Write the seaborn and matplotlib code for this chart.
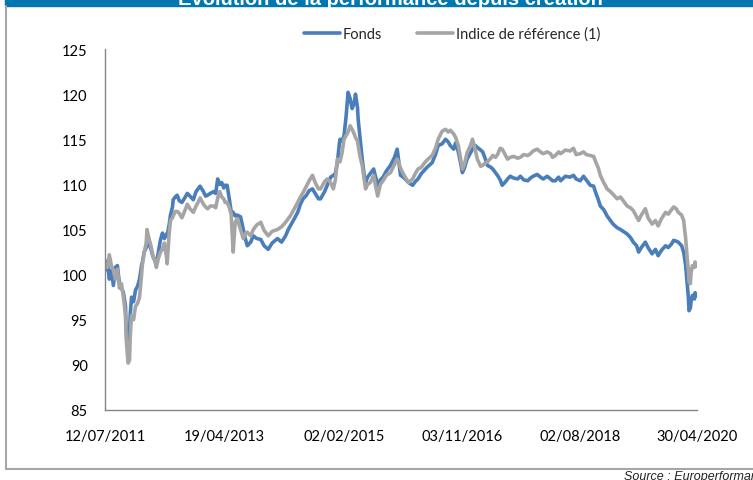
import pandas as pd
import matplotlib.pyplot as plt
import matplotlib.patches as patches
from matplotlib.lines import Line2D
import seaborn as sns

# dates as decimal years (base 100 at launch)
years = [
    2011.53, 2011.56, 2011.59, 2011.62, 2011.65, 2011.68, 2011.71, 2011.74, 2011.77, 2011.80,
    2011.83, 2011.84, 2011.86, 2011.87, 2011.89, 2011.90, 2011.92, 2011.95, 2011.98, 2012.01,
    2012.04, 2012.07, 2012.08, 2012.11, 2012.14, 2012.15, 2012.18, 2012.21, 2012.24, 2012.27,
    2012.29, 2012.32, 2012.35, 2012.38, 2012.41, 2012.44, 2012.45, 2012.48, 2012.50, 2012.53,
    2012.54, 2012.57, 2012.60, 2012.63, 2012.67, 2012.72, 2012.75, 2012.79, 2012.84, 2012.88,
    2012.91, 2012.94, 2012.99, 2013.02, 2013.05, 2013.09, 2013.14, 2013.17, 2013.20, 2013.23,
    2013.26, 2013.29, 2013.31, 2013.34, 2013.37, 2013.40, 2013.43, 2013.46, 2013.49, 2013.54,
    2013.58, 2013.61, 2013.64, 2013.69, 2013.73, 2013.78, 2013.84, 2013.89, 2013.95, 2014.01,
    2014.09, 2014.15, 2014.21, 2014.25, 2014.28, 2014.34, 2014.39, 2014.43, 2014.47, 2014.52,
    2014.56, 2014.61, 2014.65, 2014.70, 2014.73, 2014.79, 2014.83, 2014.88, 2014.92, 2014.95,
    2014.98, 2015.01, 2015.02, 2015.05, 2015.08, 2015.11, 2015.14, 2015.17, 2015.20, 2015.23,
    2015.25, 2015.28, 2015.29, 2015.32, 2015.35, 2015.38, 2015.40, 2015.43, 2015.47, 2015.52,
    2015.55, 2015.58, 2015.62, 2015.66, 2015.71, 2015.77, 2015.83, 2015.87, 2015.92, 2015.96,
    2015.99, 2016.04, 2016.10, 2016.14, 2016.18, 2016.23, 2016.29, 2016.33, 2016.39, 2016.44,
    2016.48, 2016.54, 2016.59, 2016.63, 2016.66, 2016.71, 2016.74, 2016.78, 2016.81, 2016.84,
    2016.87, 2016.91, 2016.96, 2016.99, 2017.03, 2017.06, 2017.11, 2017.14, 2017.18, 2017.21,
    2017.26, 2017.29, 2017.33, 2017.36, 2017.40, 2017.43, 2017.48, 2017.51, 2017.55, 2017.60,
    2017.66, 2017.70, 2017.75, 2017.81, 2017.85, 2017.89, 2017.95, 2018.00, 2018.04, 2018.10,
    2018.15, 2018.18, 2018.22, 2018.27, 2018.30, 2018.37, 2018.44, 2018.49, 2018.53, 2018.59,
    2018.64, 2018.68, 2018.74, 2018.79, 2018.82, 2018.86, 2018.89, 2018.94, 2018.97, 2018.99,
    2019.04, 2019.08, 2019.14, 2019.19, 2019.25, 2019.29, 2019.34, 2019.38, 2019.43, 2019.46,
    2019.50, 2019.56, 2019.60, 2019.66, 2019.71, 2019.75, 2019.80, 2019.86, 2019.90, 2019.95,
    2019.98, 2020.02, 2020.05, 2020.10, 2020.13, 2020.16, 2020.18, 2020.20, 2020.21, 2020.23,
    2020.24, 2020.26, 2020.29, 2020.30, 2020.33,
]

fonds = [
    100.5, 101.5, 99.5, 100.5, 98.8, 100.8, 101.0, 99.0, 98.5, 98.0,
    96.5, 94.0, 92.5, 91.5, 93.0, 95.5, 97.5, 97.0, 98.3, 98.7,
    99.5, 101.0, 101.3, 102.5, 103.0, 104.0, 103.5, 102.8, 102.0, 101.5,
    101.2, 102.5, 103.8, 104.6, 104.0, 104.5, 104.3, 105.5, 106.6, 107.5,
    108.3, 108.6, 108.8, 108.2, 108.0, 108.6, 109.0, 108.7, 108.3, 109.2,
    109.5, 109.8, 109.2, 108.7, 108.8, 109.0, 109.2, 109.0, 110.6, 110.0,
    110.2, 109.6, 109.9, 109.9, 108.5, 107.0, 106.9, 106.5, 106.6, 106.4,
    105.0, 104.0, 103.2, 103.6, 104.3, 104.0, 103.9, 103.2, 102.8, 103.5,
    104.0, 103.6, 104.3, 105.0, 105.4, 106.2, 106.9, 107.8, 108.4, 108.8,
    109.3, 109.5, 109.0, 108.4, 108.4, 109.2, 109.9, 110.8, 111.0, 111.2,
    112.4, 114.5, 115.0, 114.8, 115.4, 117.5, 120.2, 119.5, 118.4, 119.0,
    120.0, 118.5, 117.2, 115.0, 112.8, 111.0, 110.2, 110.8, 111.2, 111.7,
    110.8, 109.9, 110.5, 110.8, 111.5, 112.1, 113.0, 113.9, 111.0, 110.8,
    110.6, 110.2, 109.9, 110.3, 110.6, 111.2, 111.7, 112.0, 112.4, 113.3,
    114.3, 114.5, 115.0, 114.7, 114.3, 113.9, 114.6, 113.6, 112.5, 111.3,
    111.8, 112.8, 113.5, 113.9, 114.3, 114.1, 113.8, 113.6, 112.8, 112.1,
    111.9, 111.7, 111.3, 111.0, 110.5, 109.9, 110.3, 110.6, 110.9, 110.7,
    110.6, 110.9, 110.5, 110.4, 110.7, 110.9, 111.1, 110.8, 110.6, 110.9,
    110.6, 110.4, 110.4, 110.8, 110.4, 110.9, 110.8, 111.0, 110.6, 110.4,
    110.9, 110.5, 109.9, 109.8, 109.1, 108.3, 107.6, 107.2, 106.8, 106.5,
    106.0, 105.6, 105.2, 105.0, 104.7, 104.5, 104.1, 103.6, 103.2, 102.5,
    103.0, 103.6, 103.0, 102.3, 102.8, 102.1, 102.7, 103.2, 103.0, 103.4,
    103.8, 103.7, 103.6, 103.2, 102.5, 101.0, 99.2, 97.5, 96.0, 96.3,
    97.0, 97.7, 97.3, 98.0, 97.6,
]

indice = [
    101.0, 100.8, 102.2, 101.0, 100.5, 99.5, 100.6, 98.5, 99.0, 97.5,
    95.5, 93.0, 91.0, 90.2, 90.5, 93.0, 95.5, 95.0, 96.5, 96.8,
    97.5, 100.0, 101.0, 102.5, 103.5, 105.0, 104.0, 103.2, 102.0, 101.5,
    100.8, 101.8, 102.5, 102.8, 103.5, 102.0, 101.2, 104.5, 106.0, 106.3,
    106.5, 107.0, 107.0, 106.8, 106.3, 107.2, 107.8, 107.3, 106.9, 107.6,
    108.0, 108.5, 107.8, 107.5, 107.3, 107.6, 107.6, 107.4, 108.5, 109.2,
    108.6, 108.4, 108.0, 108.0, 107.5, 106.7, 102.5, 105.8, 106.2, 105.0,
    104.0, 104.5, 104.7, 104.3, 105.0, 105.5, 105.8, 104.9, 104.3, 104.8,
    105.0, 105.3, 105.8, 106.2, 106.5, 107.3, 108.0, 108.6, 109.1, 109.8,
    110.4, 111.0, 110.2, 109.5, 109.5, 110.3, 110.6, 110.2, 109.5, 110.5,
    112.8, 112.5, 112.5, 113.5, 115.0, 115.4, 115.8, 116.5, 116.1, 115.6,
    115.2, 114.8, 114.3, 113.0, 112.1, 110.5, 109.5, 110.0, 110.2, 111.0,
    109.8, 108.7, 110.0, 110.4, 111.0, 111.3, 112.2, 112.8, 111.8, 111.2,
    110.8, 110.2, 110.6, 111.2, 111.7, 111.9, 112.5, 112.8, 113.2, 114.0,
    115.0, 115.9, 116.1, 115.8, 116.0, 115.6, 115.2, 114.3, 113.0, 111.7,
    112.2, 113.5, 114.3, 115.0, 113.8, 112.8, 112.0, 112.1, 112.4, 112.5,
    112.9, 113.2, 113.0, 113.3, 114.0, 113.9, 113.2, 112.8, 113.0, 113.1,
    112.9, 113.0, 113.3, 113.2, 113.4, 113.7, 113.9, 113.6, 113.4, 113.6,
    113.4, 113.0, 113.2, 113.6, 113.4, 113.8, 113.7, 114.0, 113.3, 113.4,
    113.6, 113.3, 113.2, 113.1, 112.5, 111.8, 111.0, 110.2, 109.8, 109.5,
    109.2, 108.9, 108.4, 108.6, 108.0, 107.6, 107.4, 107.1, 106.4, 106.0,
    106.6, 107.3, 106.3, 105.6, 106.0, 105.4, 106.2, 106.9, 106.7, 107.2,
    107.5, 107.3, 106.9, 106.6, 106.0, 104.0, 102.1, 100.5, 99.2, 99.0,
    100.2, 101.0, 100.8, 101.4, 100.9,
]

tick_dates = ["2011-07-12", "2013-04-19", "2015-02-02", "2016-11-03", "2018-08-02", "2020-04-30"]
tick_labels = ["12/07/2011", "19/04/2013", "02/02/2015", "03/11/2016", "02/08/2018", "30/04/2020"]


def to_date(y):
    yr = int(y)
    return pd.Timestamp(year=yr, month=1, day=1) + pd.Timedelta(days=(y - yr) * 365.25)


dates = [to_date(y) for y in years]
df = pd.concat([
    pd.DataFrame({"date": dates, "valeur": fonds, "serie": "Fonds"}),
    pd.DataFrame({"date": dates, "valeur": indice, "serie": "Indice de référence (1)"}),
])

sns.set_style("white")
plt.rcParams["font.family"] = ["Lato", "DejaVu Sans"]

fig = plt.figure(figsize=(7.53, 4.81), dpi=100)
ax = fig.add_axes([105 / 753, 1 - 411 / 481, 592 / 753, 361 / 481])

sns.lineplot(data=df, x="date", y="valeur", hue="serie",
             palette={"Fonds": "#4a7ebb", "Indice de référence (1)": "#a5a5a5"},
             linewidth=2.6, ax=ax)

ax.set_xlim(pd.Timestamp(tick_dates[0]), pd.Timestamp(tick_dates[-1]))
ax.set_ylim(85, 125)
ax.set_yticks(range(85, 126, 5))
ax.set_xticks([pd.Timestamp(d) for d in tick_dates])
ax.set_xticklabels(tick_labels)
ax.set_xlabel("")
ax.set_ylabel("")

for side in ["top", "right"]:
    ax.spines[side].set_visible(False)
for side in ["left", "bottom"]:
    ax.spines[side].set_color("#868686")
    ax.spines[side].set_linewidth(1)
ax.tick_params(axis="both", direction="inout", length=7, width=1, color="#868686",
               labelsize=10.5, labelcolor="black")
ax.tick_params(axis="x", pad=10)
ax.tick_params(axis="y", pad=9)

sns.move_legend(ax, "center", bbox_to_anchor=(452 / 753, 1 - 35 / 481),
                bbox_transform=fig.transFigure, ncol=2, frameon=False, title=None,
                fontsize=10.5, handlelength=2.5, handletextpad=0.15, columnspacing=2.4)

# bandeau du titre (coupé en haut) et cadre
fig.patches.append(patches.Rectangle((5 / 753, 1 - 7 / 481), 748 / 753, 7 / 481,
                                     transform=fig.transFigure, color="#0077b0", zorder=0))
fig.text(390 / 753, 1 - 5 / 481, "Évolution de la performance depuis création",
         ha="center", va="baseline", color="white", fontsize=14.5, fontweight="bold",
         family=["Liberation Sans", "DejaVu Sans"])
fig.add_artist(Line2D([6 / 753, 6 / 753], [1 - 7 / 481, 1 - 470 / 481],
                      transform=fig.transFigure, color="#a6a6a6", linewidth=1.5))
fig.add_artist(Line2D([6 / 753, 1], [1 - 470 / 481, 1 - 470 / 481],
                      transform=fig.transFigure, color="#a6a6a6", linewidth=1.5))
fig.text(624 / 753, 1 - 477 / 481, "Source : Europerformance", ha="left", va="center",
         fontsize=9, style="italic", color="#222222",
         family=["Liberation Sans", "DejaVu Sans"])

fig.savefig("out.png", dpi=100)
